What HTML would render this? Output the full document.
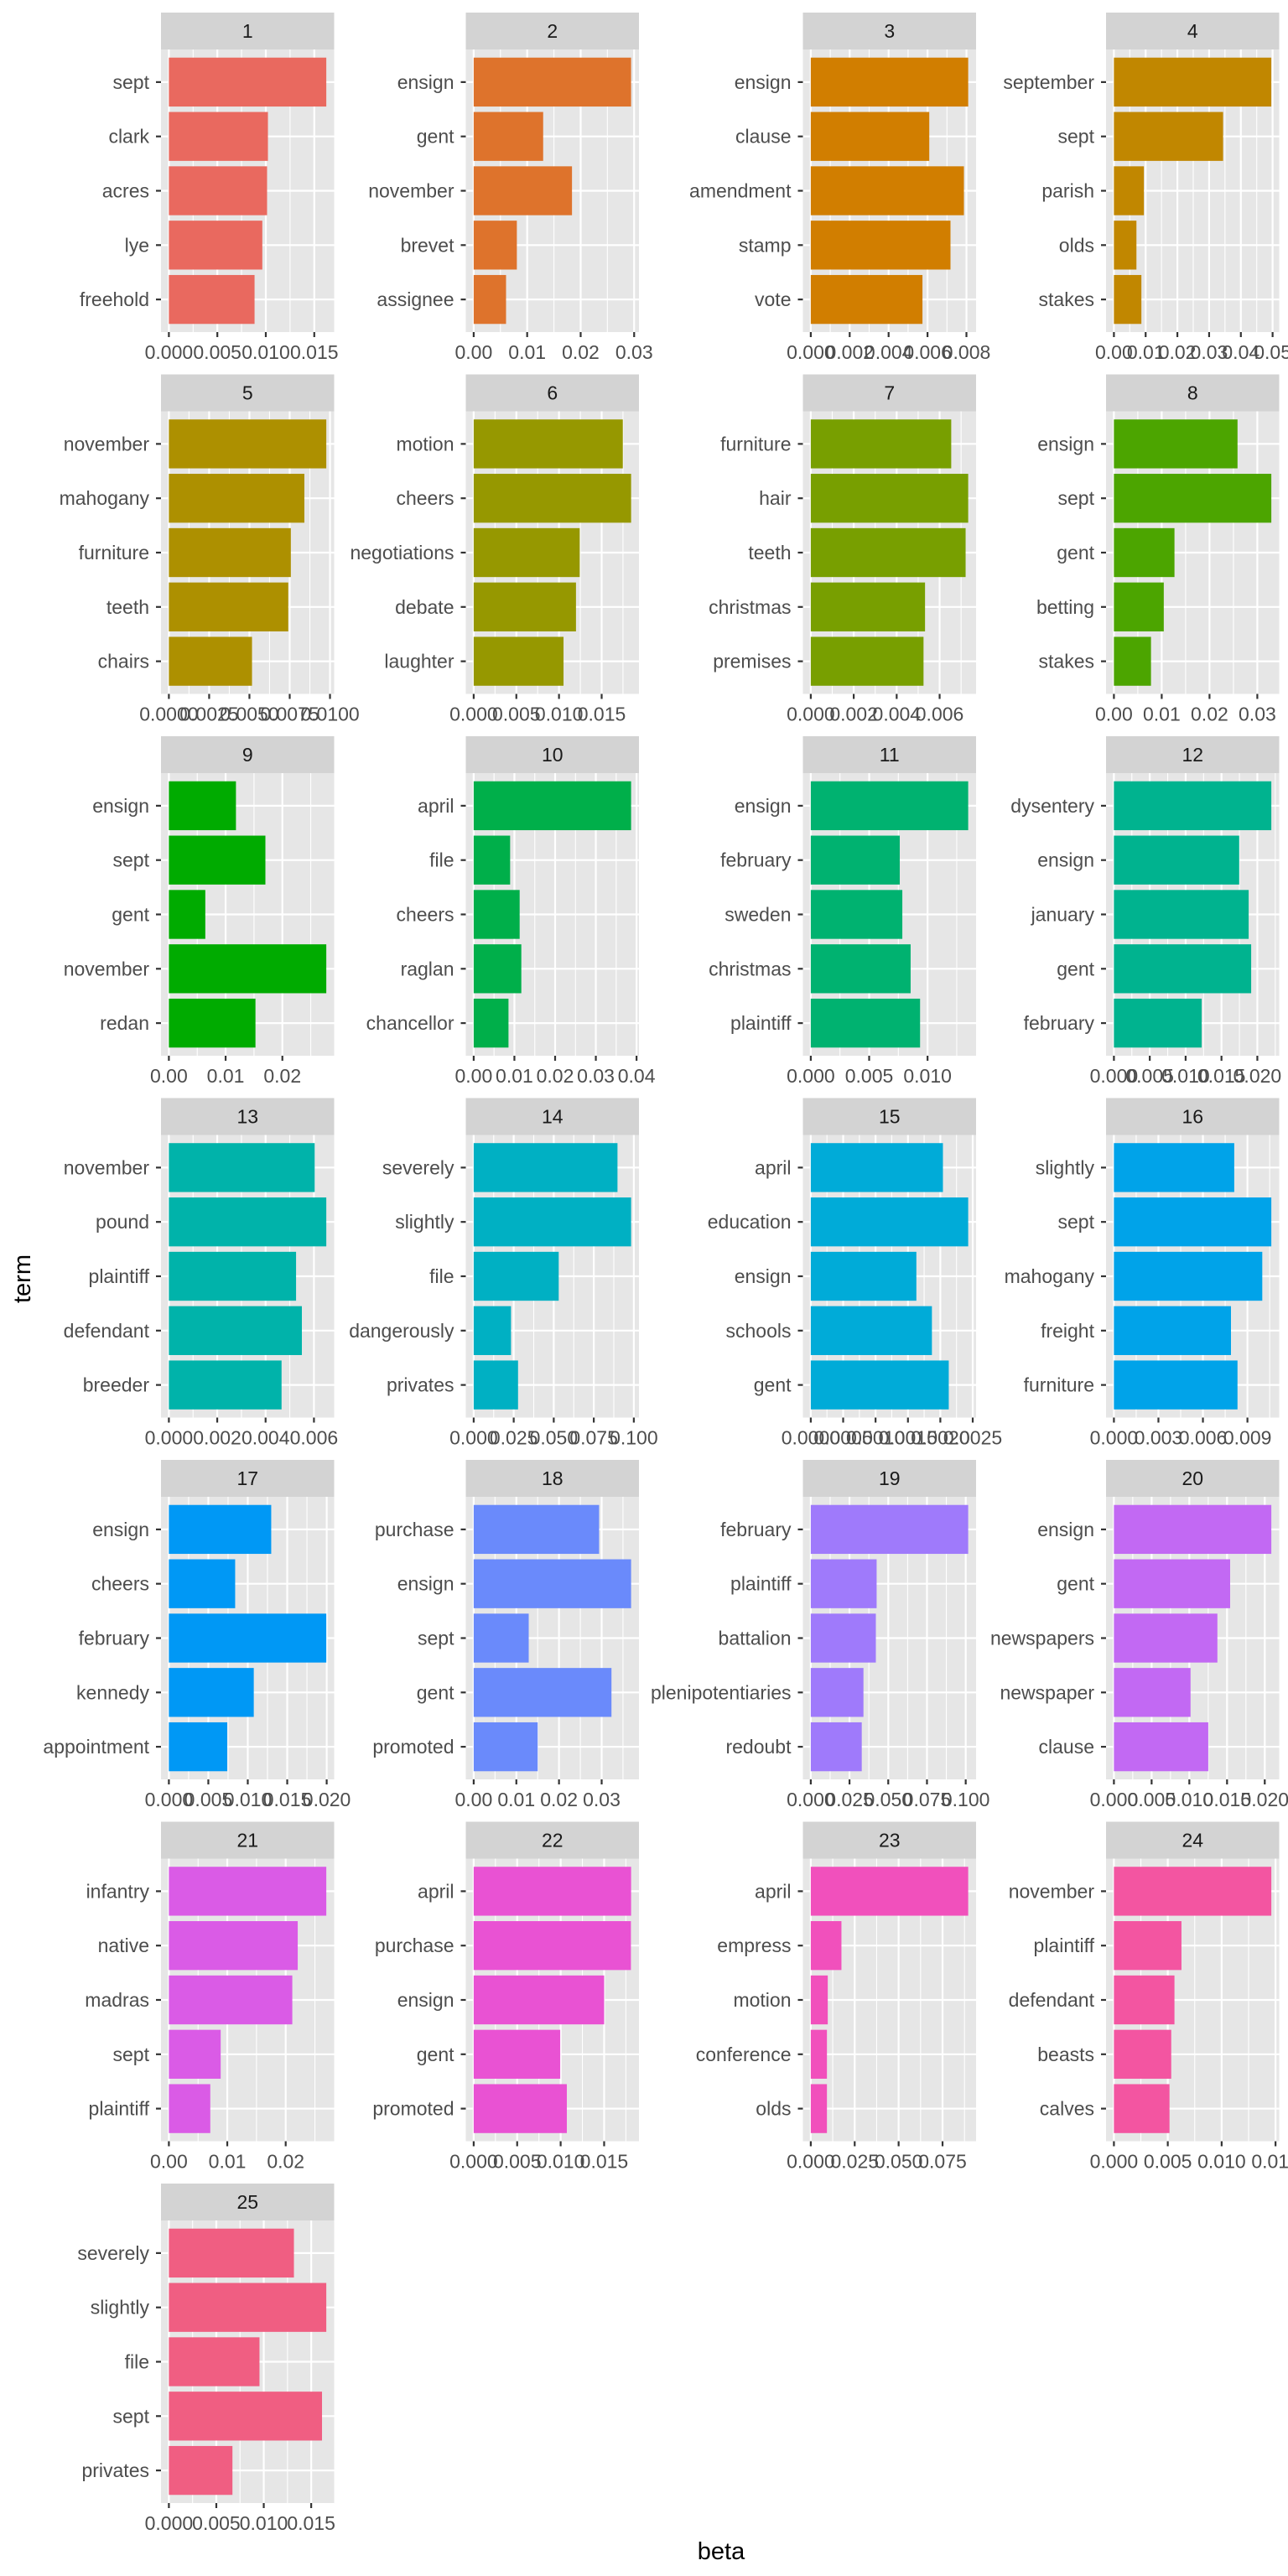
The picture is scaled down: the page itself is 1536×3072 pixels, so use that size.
<!DOCTYPE html>
<html>
<head>
<meta charset="utf-8">
<style>
  html,body{margin:0;padding:0;background:#fff;}
  svg{display:block;font-family:"Liberation Sans",Arial,sans-serif;}
</style>
</head>
<body>
<svg id="chart" width="1536" height="3072" viewBox="0 0 1536 3072">
  <rect x="0" y="0" width="1536" height="3072" fill="#ffffff"></rect>
  <text x="27" y="1525" transform="rotate(-90 27 1525)" text-anchor="middle" dominant-baseline="central" font-size="29" fill="#000">term</text>
  <text x="860" y="3052" text-anchor="middle" font-size="29" fill="#000">beta</text>
</svg>
<script>
const panelIds = ['1','2','3','4','5','6','7','8','9','10','11','12','13','14','15','16','17','18','19','20','21','22','23','24','25'];

const terms = [
  ['sept','clark','acres','lye','freehold'],
  ['ensign','gent','november','brevet','assignee'],
  ['ensign','clause','amendment','stamp','vote'],
  ['september','sept','parish','olds','stakes'],
  ['november','mahogany','furniture','teeth','chairs'],
  ['motion','cheers','negotiations','debate','laughter'],
  ['furniture','hair','teeth','christmas','premises'],
  ['ensign','sept','gent','betting','stakes'],
  ['ensign','sept','gent','november','redan'],
  ['april','file','cheers','raglan','chancellor'],
  ['ensign','february','sweden','christmas','plaintiff'],
  ['dysentery','ensign','january','gent','february'],
  ['november','pound','plaintiff','defendant','breeder'],
  ['severely','slightly','file','dangerously','privates'],
  ['april','education','ensign','schools','gent'],
  ['slightly','sept','mahogany','freight','furniture'],
  ['ensign','cheers','february','kennedy','appointment'],
  ['purchase','ensign','sept','gent','promoted'],
  ['february','plaintiff','battalion','plenipotentiaries','redoubt'],
  ['ensign','gent','newspapers','newspaper','clause'],
  ['infantry','native','madras','sept','plaintiff'],
  ['april','purchase','ensign','gent','promoted'],
  ['april','empress','motion','conference','olds'],
  ['november','plaintiff','defendant','beasts','calves'],
  ['severely','slightly','file','sept','privates']
];

const betas = [
  [0.01624,0.01022,0.01013,0.00964,0.00884],
  [0.02943,0.01299,0.01838,0.00807,0.00605],
  [0.00809,0.00609,0.00787,0.00718,0.00574],
  [0.0496,0.0344,0.00945,0.0071,0.00866],
  [0.00977,0.00841,0.00757,0.00741,0.00516],
  [0.01748,0.01845,0.01243,0.01199,0.01053],
  [0.00654,0.00733,0.00721,0.00532,0.00525],
  [0.02586,0.03293,0.01267,0.01043,0.00776],
  [0.01182,0.01701,0.00642,0.02774,0.01526],
  [0.03866,0.00895,0.01129,0.0117,0.00855],
  [0.01348,0.00762,0.00784,0.00855,0.00936],
  [0.02195,0.01747,0.01879,0.01914,0.01224],
  [0.00603,0.00651,0.00526,0.0055,0.00466],
  [0.0898,0.0983,0.0531,0.0233,0.0277],
  [0.00204,0.00243,0.00163,0.00187,0.00213],
  [0.00811,0.01061,0.0100,0.00789,0.00833],
  [0.01297,0.0084,0.01995,0.01076,0.0074],
  [0.0294,0.0369,0.0129,0.0323,0.015],
  [0.1016,0.0425,0.042,0.034,0.0329],
  [0.02087,0.01541,0.01372,0.01016,0.01251],
  [0.02695,0.02206,0.02113,0.00887,0.00709],
  [0.0181,0.01808,0.015,0.00995,0.01071],
  [0.0896,0.01745,0.00967,0.0092,0.0092],
  [0.01461,0.00627,0.00562,0.00532,0.00516],
  [0.01318,0.01659,0.00955,0.01614,0.0067]
];

const tickLabels = [
  ['0.000','0.005','0.010','0.015'],
  ['0.00','0.01','0.02','0.03'],
  ['0.000','0.002','0.004','0.006','0.008'],
  ['0.00','0.01','0.02','0.03','0.04','0.05'],
  ['0.0000','0.0025','0.0050','0.0075','0.0100'],
  ['0.000','0.005','0.010','0.015'],
  ['0.000','0.002','0.004','0.006'],
  ['0.00','0.01','0.02','0.03'],
  ['0.00','0.01','0.02'],
  ['0.00','0.01','0.02','0.03','0.04'],
  ['0.000','0.005','0.010'],
  ['0.000','0.005','0.010','0.015','0.020'],
  ['0.000','0.002','0.004','0.006'],
  ['0.000','0.025','0.050','0.075','0.100'],
  ['0.0000','0.0005','0.0010','0.0015','0.0020','0.0025'],
  ['0.000','0.003','0.006','0.009'],
  ['0.000','0.005','0.010','0.015','0.020'],
  ['0.00','0.01','0.02','0.03'],
  ['0.000','0.025','0.050','0.075','0.100'],
  ['0.000','0.005','0.010','0.015','0.020'],
  ['0.00','0.01','0.02'],
  ['0.000','0.005','0.010','0.015'],
  ['0.000','0.025','0.050','0.075'],
  ['0.000','0.005','0.010','0.015'],
  ['0.000','0.005','0.010','0.015']
];

const NS = 'http://www.w3.org/2000/svg';
const svg = document.getElementById('chart');
const colLeft = [192, 555.5, 957.5, 1319];
const W = 206.5, stripH = 44, panelH = 337, rowPitch = 431.5, firstTop = 15;

function el(tag, attrs, parent) {
  const e = document.createElementNS(NS, tag);
  for (const k in attrs) e.setAttribute(k, attrs[k]);
  parent.appendChild(e);
  return e;
}

function hcl2hex(h, c, l) {
  const Xn = 95.047, Yn = 100, Zn = 108.883;
  const un = 4 * Xn / (Xn + 15 * Yn + 3 * Zn), vn = 9 * Yn / (Xn + 15 * Yn + 3 * Zn);
  const hr = h * Math.PI / 180;
  const u = c * Math.cos(hr), v = c * Math.sin(hr);
  const Y = l > 8 ? Yn * Math.pow((l + 16) / 116, 3) : Yn * l / 903.3;
  const up = u / (13 * l) + un, vp = v / (13 * l) + vn;
  const X = 9 * Y * up / (4 * vp);
  const Z = -X / 3 - 5 * Y + 3 * Y / vp;
  const x = X / 100, y = Y / 100, z = Z / 100;
  let r = 3.2404542 * x - 1.5371385 * y - 0.4985314 * z;
  let g = -0.9692660 * x + 1.8760108 * y + 0.0415560 * z;
  let b = 0.0556434 * x - 0.2040259 * y + 1.0572252 * z;
  const gam = t => t <= 0.0031308 ? 12.92 * t : 1.055 * Math.pow(t, 1 / 2.4) - 0.055;
  const to = t => { t = Math.round(Math.max(0, Math.min(1, gam(t))) * 255); return t.toString(16).padStart(2, '0'); };
  return '#' + to(r) + to(g) + to(b);
}

panelIds.forEach((pid, k) => {
  const col = k % 4, row = Math.floor(k / 4);
  const P = colLeft[col];
  const stripTop = firstTop + rowPitch * row;
  const T = stripTop + stripH;
  const vals = betas[k];
  const maxV = Math.max(...vals);
  const lo = -0.05 * maxV, hi = 1.05 * maxV;
  const xs = v => P + (v - lo) / (hi - lo) * W;
  const step = panelH / 5.2;
  const yc = i => T + (0.6 + i) * step;
  const color = hcl2hex(15 + 360 * k / 25, 100, 60);

  const g = el('g', {}, svg);
  
  

  const strip = el('rect', {x: P, y: stripTop, width: W, height: stripH, fill: '#D3D3D3'}, g);
  
  
  const st = el('text', {x: P + W / 2, y: stripTop + 30, 'text-anchor': 'middle', 'font-size': 23, fill: '#1A1A1A'}, g);
  st.textContent = pid;
  
  

  const bg = el('rect', {x: P, y: T, width: W, height: panelH, fill: '#E6E6E6'}, g);
  
  

  const ticks = tickLabels[k].map(Number);
  const tstep = ticks[1] - ticks[0];
  const ext = ticks.concat([ticks[ticks.length - 1] + tstep]);
  for (let i = 0; i < ext.length - 1; i++) {
    const m = (ext[i] + ext[i + 1]) / 2;
    if (m > lo && m < hi) {
      const ml = el('line', {x1: xs(m), x2: xs(m), y1: T, y2: T + panelH, stroke: '#fff', 'stroke-width': 1.1}, g);
      
      
    }
  }
  ticks.forEach((t, i) => {
    if (t < lo || t > hi) return;
    const gl = el('line', {x1: xs(t), x2: xs(t), y1: T, y2: T + panelH, stroke: '#fff', 'stroke-width': 2.2}, g);
    
    
    const tk = el('line', {x1: xs(t), x2: xs(t), y1: T + panelH, y2: T + panelH + 6, stroke: '#333', 'stroke-width': 2.2}, g);
    
    
    const tl = el('text', {x: xs(t), y: T + panelH + 32, 'text-anchor': 'middle', 'font-size': 23, fill: '#4D4D4D'}, g);
    tl.textContent = tickLabels[k][i];
    
    
  });

  terms[k].forEach((term, i) => {
    const hl = el('line', {x1: P, x2: P + W, y1: yc(i), y2: yc(i), stroke: '#fff', 'stroke-width': 2.2}, g);
    
    
  });

  terms[k].forEach((term, i) => {
    const x0 = xs(0), x1 = xs(vals[i]);
    const bar = el('rect', {x: x0, y: yc(i) - 0.45 * step, width: x1 - x0, height: 0.9 * step, fill: color}, g);
    
    
    const tk = el('line', {x1: P - 6, x2: P, y1: yc(i), y2: yc(i), stroke: '#333', 'stroke-width': 2.2}, g);
    
    
    const lb = el('text', {x: P - 14, y: yc(i) + 8, 'text-anchor': 'end', 'font-size': 23, fill: '#4D4D4D'}, g);
    lb.textContent = term;
    
    
  });
});
</script>
</body>
</html>
